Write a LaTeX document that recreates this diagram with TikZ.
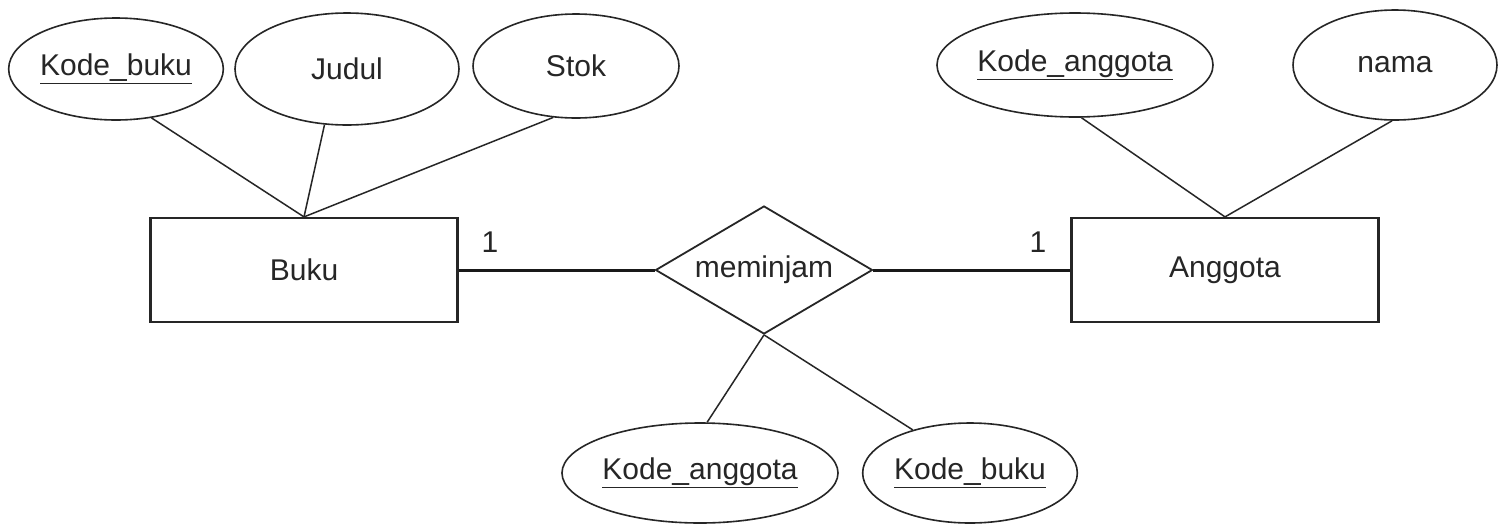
\documentclass[tikz,border=0pt]{standalone}
\usepackage{fontspec}
\setmainfont{Liberation Sans}
\usetikzlibrary{shapes.geometric}
\begin{document}
\begin{tikzpicture}[x=1pt,y=-1pt,
  every node/.style={font=\fontsize{30}{36}\selectfont, text=black!85},
  attr/.style={ellipse,draw=black!85,line width=1.6pt,inner sep=0pt},
  entity/.style={rectangle,draw=black!85,line width=2.2pt,minimum width=307pt,minimum height=104pt,inner sep=0pt},
  relbox/.style={diamond,aspect=1.7,draw=black!85,line width=1.8pt,minimum width=217pt,minimum height=128pt,inner sep=0pt},
  attrline/.style={draw=black!85,line width=1.5pt},
  relline/.style={draw=black!90,line width=3pt},
  card/.style={font=\fontsize{30}{36}\selectfont}]
\useasboundingbox (0,0) rectangle (1505,523);
\fill[white] (0,0) rectangle (1505,523);

\node[attr,minimum width=208pt,minimum height=102pt] (kb) at (116,69) {\underline{Kode\_buku}};
\node[attr,minimum width=224pt,minimum height=112pt] (jd) at (347,69) {Judul};
\node[attr,minimum width=206pt,minimum height=104pt] (st) at (576,66) {Stok};
\node[attr,minimum width=270pt,minimum height=104pt] (ka) at (1075,65) {\underline{Kode\_anggota}};
\node[attr,minimum width=204pt,minimum height=110pt] (nm) at (1395,65) {nama};
\node[attr,minimum width=270pt,minimum height=100pt] (ka2) at (700,473) {\underline{Kode\_anggota}};
\node[attr,minimum width=204pt,minimum height=100pt] (kb2) at (970,473) {\underline{Kode\_buku}};

\node[entity] (buku) at (304,270) {Buku};
\node[entity] (ang) at (1225,270) {Anggota};
\node[relbox] (rel) at (764,270) {meminjam};

\node[card] (c1) at (490,242) {1};
\node[card] (c2) at (1038,242) {1};

\draw[attrline] (kb.-54) -- (buku.north);
\draw[attrline] (jd.-112) -- (buku.north);
\draw[attrline] (st.-114) -- (buku.north);
\draw[attrline] (ka.-83) -- (ang.north);
\draw[attrline] (nm.-93) -- (ang.north);
\draw[attrline] (rel.south) -- (ka2.82);
\draw[attrline] (rel.south) -- (kb2.143);

\draw[relline] (buku.east) -- (rel.west);
\draw[relline] (rel.east) -- (ang.west);
\end{tikzpicture}
\end{document}
